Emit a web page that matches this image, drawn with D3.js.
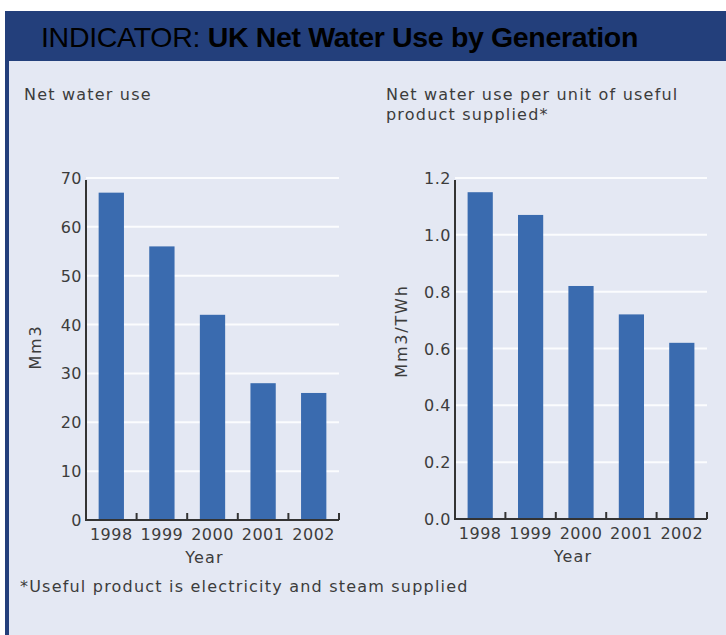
<!DOCTYPE html>
<html>
<head>
<meta charset="utf-8">
<script src="https://cdn.jsdelivr.net/npm/d3@7"></script>
<style>
  body { margin: 0; background: #fff; }
  svg { display: block; }
</style>
</head>
<body>
<div id="chart"></div>
<script>
// data
var years = ['1998', '1999', '2000', '2001', '2002'];
var netUse = [67, 56, 42, 28, 26];            // Mm3
var perUnit = [1.15, 1.07, 0.82, 0.72, 0.62]; // Mm3/TWh
var netTicks = [0, 10, 20, 30, 40, 50, 60, 70];
var perUnitTicks = [0, 0.2, 0.4, 0.6, 0.8, 1.0, 1.2];

var width = 726, height = 635;
var textColor = '#3c3c3c';
var barColor = '#3a6baf';
var font = 'DejaVu Sans, Verdana, sans-serif';

var svg = d3.select('#chart').append('svg')
   .attr('width', width)
   .attr('height', height);

// panel + header
svg.append('rect')
   .attr('x', 5).attr('y', 11)
   .attr('width', width - 5).attr('height', height - 11)
   .attr('fill', '#233f7b');

svg.append('rect')
   .attr('x', 9).attr('y', 61)
   .attr('width', width - 9).attr('height', height - 61)
   .attr('fill', '#e4e8f3');

var title = svg.append('text')
   .attr('x', 41).attr('y', 47)
   .attr('font-family', 'Liberation Sans, Arial, sans-serif')
   .attr('font-size', 28.5)
   .attr('fill', '#000');
title.append('tspan').attr('letter-spacing', -0.3).text('INDICATOR: ');
title.append('tspan').attr('font-weight', 'bold').attr('letter-spacing', -0.35)
   .text('UK Net Water Use by Generation');

function drawChart(opts) {
   var g = svg.append('g');

   var x = d3.scaleBand()
      .domain(years)
      .range([opts.left, opts.right])
      .paddingInner(0.5)
      .paddingOuter(0.25);

   var y = d3.scaleLinear()
      .domain([0, opts.max])
      .range([opts.bottom, opts.top]);

   // gridlines
   g.selectAll('.grid')
      .data(opts.ticks.filter(function(d) { return d > 0; }))
      .enter().append('line')
      .attr('class', 'grid')
      .attr('x1', opts.left)
      .attr('x2', opts.right)
      .attr('y1', function(d) { return y(d); })
      .attr('y2', function(d) { return y(d); })
      .attr('stroke', '#fbfcfe')
      .attr('stroke-width', 2);

   // bars
   g.selectAll('.bar')
      .data(opts.values)
      .enter().append('rect')
      .attr('class', 'bar')
      .attr('x', function(d, i) { return x(years[i]); })
      .attr('y', function(d) { return y(d); })
      .attr('width', x.bandwidth())
      .attr('height', function(d) { return opts.bottom - y(d); })
      .attr('fill', barColor);

   // y tick labels
   g.selectAll('.ylab')
      .data(opts.ticks)
      .enter().append('text')
      .attr('class', 'ylab')
      .attr('x', opts.left - 4)
      .attr('y', function(d) { return y(d) + 6; })
      .attr('text-anchor', 'end')
      .attr('font-family', font)
      .attr('font-size', 16)
      .attr('letter-spacing', 0.5)
      .attr('fill', textColor)
      .text(opts.format);

   // x tick labels
   g.selectAll('.xlab')
      .data(years)
      .enter().append('text')
      .attr('class', 'xlab')
      .attr('x', function(d) { return x(d) + x.bandwidth() / 2; })
      .attr('y', opts.bottom + 20)
      .attr('text-anchor', 'middle')
      .attr('font-family', font)
      .attr('font-size', 16)
      .attr('letter-spacing', 0.5)
      .attr('fill', textColor)
      .text(function(d) { return d; });

   // small upward ticks between bars
   g.selectAll('.xtick')
      .data(years)
      .enter().append('line')
      .attr('class', 'xtick')
      .attr('x1', function(d) { return x(d) + x.bandwidth() + x.step() * 0.25; })
      .attr('x2', function(d) { return x(d) + x.bandwidth() + x.step() * 0.25; })
      .attr('y1', opts.bottom)
      .attr('y2', opts.bottom - 7)
      .attr('stroke', '#333')
      .attr('stroke-width', 2);

   // axis lines
   g.append('path')
      .attr('d', 'M' + opts.left + ',' + (opts.top + 2) + 'V' + opts.bottom + 'H' + opts.right)
      .attr('fill', 'none')
      .attr('stroke', '#333')
      .attr('stroke-width', 2);

   g.append('text')
      .attr('x', (opts.left + opts.right) / 2 - 8)
      .attr('y', opts.bottom + 43)
      .attr('text-anchor', 'middle')
      .attr('font-family', font)
      .attr('font-size', 16)
      .attr('letter-spacing', 1.2)
      .attr('fill', textColor)
      .text('Year');

   g.append('text')
      .attr('transform', 'translate(' + opts.yTitleX + ',' + opts.yTitleY + ') rotate(-90)')
      .attr('text-anchor', 'middle')
      .attr('font-family', font)
      .attr('font-size', 16)
      .attr('letter-spacing', 1.8)
      .attr('fill', textColor)
      .text(opts.yTitle);

   opts.subtitle.forEach(function(line, i) {
      g.append('text')
         .attr('x', opts.subX)
         .attr('y', 100 + i * 20)
         .attr('font-family', font)
         .attr('font-size', 16)
         .attr('letter-spacing', 1.2)
         .attr('fill', textColor)
         .text(line);
   });
}

drawChart({
   values: netUse, ticks: netTicks, max: 70,
   left: 86, right: 339, top: 178, bottom: 520,
   format: d3.format('d'),
   yTitle: 'Mm3', yTitleX: 41, yTitleY: 347,
   subtitle: ['Net water use'], subX: 24
});

drawChart({
   values: perUnit, ticks: perUnitTicks, max: 1.2,
   left: 455, right: 707, top: 178, bottom: 519,
   format: d3.format('.1f'),
   yTitle: 'Mm3/TWh', yTitleX: 407, yTitleY: 331,
   subtitle: ['Net water use per unit of useful', 'product supplied*'], subX: 386
});

svg.append('text')
   .attr('x', 20).attr('y', 592)
   .attr('font-family', font)
   .attr('font-size', 16)
   .attr('letter-spacing', 1.2)
   .attr('fill', textColor)
   .text('*Useful product is electricity and steam supplied');
</script>
</body>
</html>
